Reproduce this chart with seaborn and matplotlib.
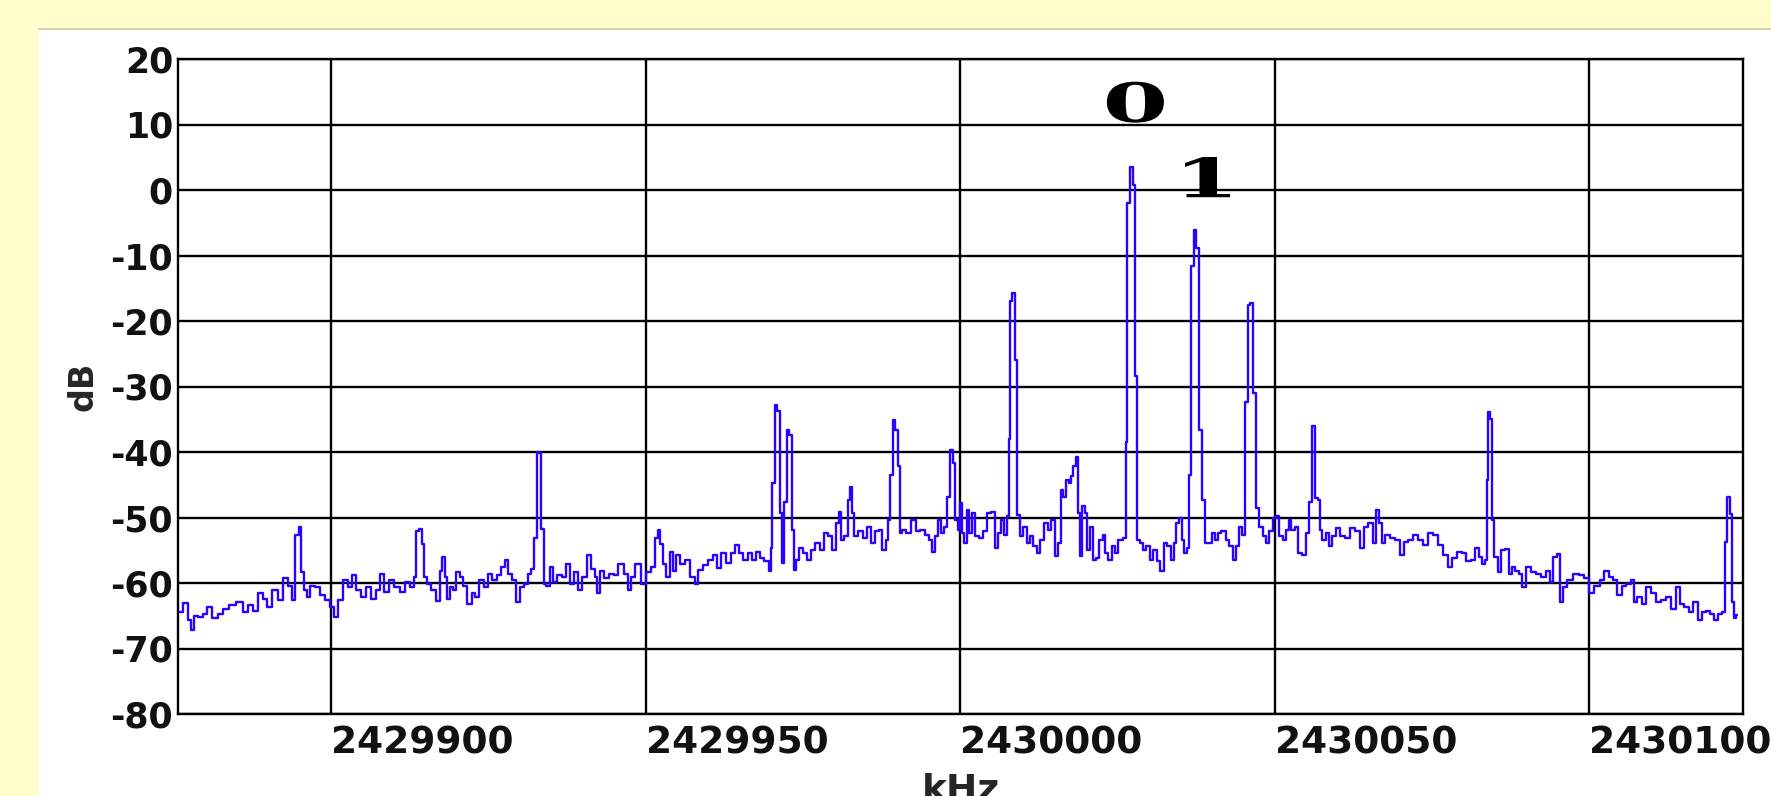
import seaborn as sns
import matplotlib.pyplot as plt
import numpy as np
from matplotlib.patches import Rectangle
from matplotlib.lines import Line2D
from matplotlib.patheffects import AbstractPathEffect
from matplotlib.transforms import Affine2D

# spectrum around 2430000 kHz
center_khz = 2430000
offset_khz = [
    -124.2, -122.9, -122.4, -122.1, -121.5, -120.7, -119.9, -119.4, -118.3, -117.5,
    -116.7, -115.7, -114.4, -113.6, -112.8, -112.0, -111.2, -110.4, -109.9, -108.8,
    -108.0, -107.2, -106.4, -105.9, -105.4, -104.9, -104.5, -104.1, -103.5, -103.0,
    -102.2, -101.4, -100.6, -99.8, -99.3, -98.5, -97.7, -96.9, -96.4, -95.6,
    -94.8, -94.0, -93.2, -92.4, -91.9, -91.1, -90.3, -89.5, -88.7, -87.9,
    -87.1, -86.6, -86.2, -85.8, -85.4, -85.0, -84.5, -83.7, -82.9, -82.5,
    -82.1, -81.7, -81.4, -80.9, -80.3, -79.8, -79.3, -78.7, -77.9, -77.4,
    -76.9, -76.1, -75.3, -74.8, -74.0, -73.2, -72.7, -72.1, -71.6, -70.8,
    -70.3, -69.7, -68.9, -68.4, -67.9, -67.5, -67.1, -66.7, -66.4, -66.0,
    -65.5, -65.0, -64.4, -63.7, -62.9, -62.3, -61.8, -61.0, -60.5, -59.7,
    -59.0, -58.4, -57.8, -57.5, -57.0, -56.3, -55.4, -54.7, -53.9, -53.1,
    -52.5, -52.0, -51.2, -50.4, -49.6, -48.8, -48.3, -47.9, -47.5, -47.0,
    -46.4, -45.9, -45.4, -44.85, -44.1, -43.3, -42.5, -41.9, -41.3, -40.5,
    -39.7, -38.9, -38.3, -37.6, -36.8, -36.2, -35.5, -34.9, -34.1, -33.3,
    -32.8, -32.2, -31.5, -30.7, -30.2, -30.0, -29.7, -29.3, -28.9, -28.5,
    -28.1, -27.8, -27.4, -27.0, -26.6, -26.3, -25.9, -25.4, -24.7, -24.0,
    -23.5, -22.7, -21.9, -21.4, -20.6, -20.1, -19.5, -19.1, -18.75, -18.1,
    -17.7, -17.3, -17.0, -16.6, -15.85, -15.0, -14.5, -14.0, -13.2, -12.7,
    -12.1, -11.6, -11.2, -11.0, -10.5, -10.1, -9.75, -9.5, -8.95, -8.2,
    -7.4, -6.8, -6.0, -5.3, -4.7, -4.3, -3.8, -3.2, -2.9, -2.3,
    -1.8, -1.4, -1.0, -0.6, -0.2, 0.1, 0.47, 0.85, 1.27, 1.69,
    2.06, 2.6, 3.3, 3.9, 4.7, 5.2, 5.8, 6.3, 6.8, 7.2,
    7.6, 7.8, 8.1, 8.5, 8.9, 9.2, 9.7, 10.3, 10.8, 11.3,
    11.9, 12.4, 12.9, 13.6, 14.2, 14.8, 15.3, 15.8, 16.2, 16.6,
    17.05, 17.4, 17.8, 18.2, 18.6, 18.85, 19.2, 19.5, 20.1, 20.3,
    20.9, 21.3, 21.9, 22.35, 22.9, 23.25, 23.8, 24.3, 24.8, 25.5,
    26.2, 26.4, 26.7, 27.2, 27.6, 28.0, 28.3, 28.8, 29.3, 29.9,
    30.4, 30.9, 31.5, 32.1, 32.6, 33.2, 33.7, 34.1, 34.6, 35.1,
    35.4, 35.8, 36.2, 36.5, 36.9, 37.3, 37.7, 38.1, 38.6, 39.1,
    39.7, 40.2, 40.7, 41.15, 41.9, 42.5, 43.0, 43.7, 44.1, 44.6,
    45.1, 45.5, 45.9, 46.3, 46.9, 47.2, 47.8, 48.3, 48.8, 49.4,
    49.9, 50.4, 50.95, 51.5, 52.0, 52.4, 52.9, 53.4, 54.0, 54.7,
    55.2, 55.7, 56.25, 56.6, 57.0, 57.3, 57.8, 58.4, 58.9, 59.4,
    60.1, 60.75, 61.5, 62.3, 63.1, 63.9, 64.5, 65.25, 65.8, 66.3,
    66.8, 67.2, 67.9, 68.7, 69.5, 70.2, 70.8, 71.6, 72.4, 73.2,
    74.0, 74.8, 75.6, 76.4, 77.1, 77.8, 78.5, 79.3, 80.1, 80.8,
    81.4, 82.2, 82.6, 83.15, 83.6, 83.8, 84.0, 84.3, 84.6, 85.0,
    85.3, 85.7, 86.3, 86.9, 87.4, 87.9, 88.45, 89.0, 89.5, 90.3,
    91.1, 91.9, 92.7, 93.5, 94.0, 94.5, 95.1, 95.4, 96.1, 96.9,
    98.0, 98.8, 99.6, 100.4, 101.2, 102.0, 102.75, 103.5, 104.1, 104.8,
    105.4, 106.2, 106.9, 107.3, 107.9, 108.7, 109.4, 110.2, 111.0, 111.7,
    112.5, 113.3, 114.1, 114.7, 115.5, 116.1, 116.8, 117.6, 118.2, 118.9,
    119.4, 120.1, 120.8, 121.4, 121.7, 122.1, 122.5, 122.7, 123.1, 123.5,
]
level_db = [
    -64.4, -63.0, -65.7, -67.2, -65.0, -65.2, -64.8, -63.7, -65.4, -64.7,
    -63.9, -63.4, -62.9, -64.4, -63.4, -64.2, -61.6, -62.4, -63.7, -61.1,
    -62.6, -59.3, -60.4, -62.6, -52.7, -51.5, -58.3, -61.1, -62.1, -60.4,
    -60.6, -61.9, -62.6, -63.7, -65.2, -62.6, -59.6, -60.6, -58.8, -61.1,
    -62.1, -60.6, -62.4, -61.1, -58.6, -61.4, -59.6, -60.6, -61.4, -59.8,
    -60.6, -59.1, -52.0, -51.7, -54.0, -59.1, -60.1, -61.1, -62.8, -58.1,
    -56.0, -59.1, -62.4, -60.6, -61.1, -58.3, -59.1, -60.4, -63.2, -61.6,
    -62.1, -59.6, -60.6, -58.6, -59.6, -58.8, -57.6, -56.5, -58.6, -59.6,
    -62.9, -60.6, -60.1, -58.6, -57.8, -53.2, -40.0, -40.2, -51.7, -60.1,
    -60.4, -57.6, -59.9, -58.8, -59.1, -57.1, -60.1, -58.3, -61.1, -59.1,
    -55.8, -57.8, -59.1, -61.6, -58.1, -59.3, -58.6, -58.8, -57.1, -58.6,
    -61.1, -59.1, -57.1, -60.1, -58.3, -57.6, -53.2, -51.9, -54.0, -57.1,
    -59.1, -55.3, -58.1, -55.8, -57.1, -56.5, -59.1, -60.1, -58.0, -57.2,
    -56.5, -55.7, -57.7, -55.4, -57.0, -55.4, -54.2, -55.4, -56.5, -55.4,
    -56.5, -55.2, -56.2, -56.7, -58.2, -54.7, -44.8, -32.8, -33.8, -49.3,
    -57.0, -47.6, -36.6, -37.4, -51.9, -58.0, -56.5, -54.7, -55.4, -56.5,
    -54.9, -53.9, -54.9, -52.4, -52.9, -54.9, -50.9, -49.1, -53.4, -52.9,
    -47.3, -45.3, -49.3, -52.9, -52.1, -53.2, -51.4, -53.9, -52.1, -51.9,
    -54.9, -53.4, -50.4, -43.5, -35.1, -36.6, -42.2, -52.4, -51.9, -52.4,
    -50.4, -52.1, -51.9, -52.6, -53.4, -55.2, -52.9, -50.4, -52.4, -51.4,
    -46.8, -39.7, -41.7, -50.4, -51.9, -47.8, -52.4, -53.9, -48.8, -52.4,
    -49.3, -52.9, -53.2, -52.1, -49.3, -49.1, -54.7, -52.4, -50.4, -52.6,
    -49.8, -38.0, -17.0, -15.8, -26.0, -49.6, -52.9, -51.4, -53.9, -52.9,
    -54.4, -55.4, -53.4, -50.9, -51.9, -50.4, -55.9, -53.9, -45.8, -46.8,
    -44.2, -44.8, -43.7, -42.2, -40.7, -49.3, -55.9, -48.3, -49.3, -54.9,
    -51.4, -56.5, -56.2, -53.4, -52.6, -55.4, -56.5, -54.4, -55.4, -53.4,
    -53.2, -38.4, -2.0, 3.5, 0.8, -28.4, -53.4, -53.9, -54.9, -54.4,
    -56.5, -54.9, -56.7, -58.2, -53.9, -54.4, -56.5, -53.9, -50.9, -50.1,
    -53.4, -55.4, -54.7, -43.5, -11.6, -6.1, -8.9, -36.6, -47.3, -53.9,
    -53.9, -52.4, -53.4, -52.4, -52.1, -53.4, -54.4, -56.5, -54.4, -51.4,
    -52.6, -32.3, -17.5, -17.2, -31.0, -48.6, -51.4, -52.9, -53.9, -52.1,
    -50.1, -49.8, -52.9, -53.4, -51.9, -50.4, -51.9, -51.4, -55.4, -55.7,
    -52.4, -47.6, -36.1, -47.0, -47.3, -51.9, -53.4, -52.4, -54.4, -52.9,
    -51.6, -52.9, -53.2, -51.6, -52.1, -54.7, -51.4, -50.9, -53.9, -48.8,
    -50.9, -53.9, -52.6, -53.2, -53.4, -55.7, -53.7, -53.4, -52.6, -53.4,
    -54.2, -52.4, -52.6, -54.2, -55.7, -57.5, -56.2, -55.2, -55.4, -56.7,
    -56.5, -54.7, -56.0, -57.1, -56.5, -44.3, -33.9, -35.0, -50.4, -56.0,
    -56.0, -58.3, -55.0, -54.8, -58.6, -57.6, -58.1, -58.6, -60.6, -57.6,
    -58.3, -58.6, -59.1, -58.1, -59.9, -56.0, -55.5, -62.9, -60.6, -59.6,
    -58.6, -58.8, -59.3, -61.6, -60.4, -59.6, -58.1, -59.1, -59.6, -61.9,
    -60.4, -60.1, -59.6, -62.9, -62.1, -63.2, -60.6, -61.6, -62.9, -62.6,
    -62.1, -63.9, -60.6, -63.2, -63.7, -64.4, -62.9, -65.7, -64.4, -64.2,
    -64.7, -65.7, -64.7, -64.4, -53.7, -46.9, -49.4, -62.9, -65.4, -64.9,
]

x_ticks = [2429900, 2429950, 2430000, 2430050, 2430100]
x_tick_labels = ["2429900", "2429950", "2430000", "2430050", "2430100"]
y_ticks = [-80, -70, -60, -50, -40, -30, -20, -10, 0, 10, 20]

# peak markers (text, kHz offset, dB)
marker_text = ["0", "1"]
marker_off = [22.6, 33.9]
marker_db = [10.4, -1.1]


class StretchX(AbstractPathEffect):
    # widen glyphs horizontally like the screenshot's stretched labels
    def __init__(self, sx):
        super().__init__()
        self.sx = sx

    def draw_path(self, renderer, gc, tpath, affine, rgbFace=None):
        renderer.draw_path(gc, tpath, Affine2D().scale(self.sx, 1) + affine, rgbFace)


sns.set_style("white")
plt.rcParams['font.family'] = ['DejaVu Sans']
plt.rcParams['axes.unicode_minus'] = False

W, H = 1771, 796
fig = plt.figure(figsize=(W / 100, H / 100), dpi=100, facecolor='#FFFDCC')
fig.patches.append(Rectangle((39 / W, 0), 1, (H - 29) / H, transform=fig.transFigure,
                             facecolor='white', edgecolor='none', zorder=-10))
fig.add_artist(Line2D([39 / W, 1], [(H - 29) / H] * 2, color='#c8c8a4', lw=1.2))

ax = fig.add_axes([178 / W, 82 / H, 1565 / W, 655 / H])
ax.set_facecolor('white')

freqs = np.array(offset_khz) + center_khz
sns.lineplot(x=freqs, y=np.array(level_db), ax=ax, color='#2e00ff', linewidth=1.7,
             drawstyle='steps-mid', zorder=3)

for t, o, d in zip(marker_text, marker_off, marker_db):
    ax.text(center_khz + o, d, t, fontsize=39, fontweight='bold', family='DejaVu Serif',
            color='black', ha='left', va='baseline', zorder=4,
            path_effects=[StretchX(1.75)])

ax.set_xlim(center_khz - 124.3, center_khz + 124.4)
ax.set_ylim(-80, 20)
ax.set_xticks(x_ticks)
ax.set_xticklabels(x_tick_labels, fontsize=27, fontweight='bold')
for lab in ax.get_xticklabels():
    lab.set_ha('left')
ax.set_yticks(y_ticks)
ax.set_yticklabels([str(v) for v in y_ticks], fontsize=25, fontweight='bold')
ax.tick_params(axis='x', length=0, pad=8.6, colors='#111111')
ax.tick_params(axis='y', length=0, pad=3.6, colors='#111111')

ax.grid(True, color='black', linewidth=1.7)
for s in ax.spines.values():
    s.set_color('black')
    s.set_linewidth(1.7)

ax.set_xlabel('kHz', fontsize=27, fontweight='bold')
ax.xaxis.set_label_coords(0.5, -0.090)
ax.set_ylabel('dB', fontsize=24, fontweight='bold')
ax.yaxis.set_label_coords(-0.05, 0.5)

fig.savefig('out.png', dpi=100, facecolor=fig.get_facecolor())
